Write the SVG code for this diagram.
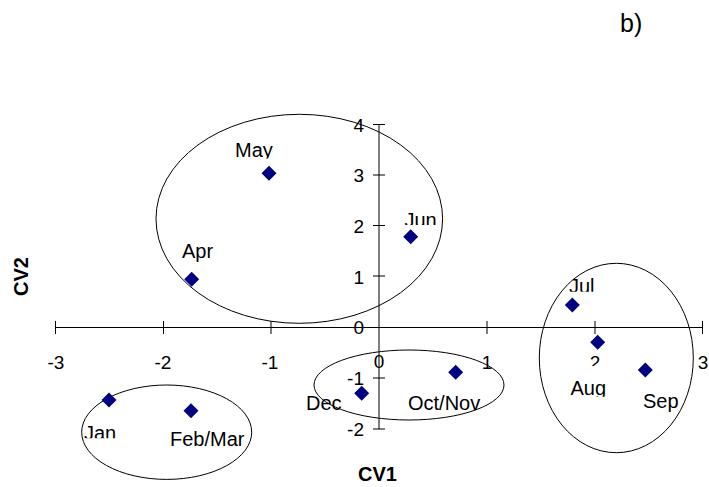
<svg xmlns="http://www.w3.org/2000/svg" width="709" height="487" viewBox="0 0 709 487">
<style>
  .t{font-family:"Liberation Sans",Arial,sans-serif;fill:#000}
  .lab{font-size:20px}
  .tick{font-size:19px}
  .title{font-size:20px;font-weight:bold}
  .ax{stroke:#000;stroke-width:1;fill:none}
  .ell{stroke:#000;stroke-width:1;fill:none}
  .pt{fill:#000080}
</style>
<defs>
  <path id="dia" d="M0,-7.5 L7.5,0 L0,7.5 L-7.5,0 Z"/>
  <clipPath id="cMay"><rect x="0" y="0" width="709" height="158.5"/></clipPath>
  <clipPath id="cJun"><rect x="0" y="0" width="709" height="225"/></clipPath>
  <clipPath id="cJul"><rect x="0" y="0" width="709" height="291.7"/></clipPath>
  <clipPath id="cAug"><rect x="0" y="0" width="709" height="396.7"/></clipPath>
  <clipPath id="cJan"><rect x="0" y="0" width="709" height="438.3"/></clipPath>
  <clipPath id="c2"><rect x="0" y="0" width="709" height="366"/></clipPath>
</defs>
<rect width="709" height="487" fill="#fff"/>

<g id="axes">
  <path class="ax" d="M55,327.5 H703 M55.5,321 V334 M163.5,321 V334 M271,321 V334 M487,321 V334 M595,321 V334 M702.5,321 V334"/>
  <path class="ax" d="M379,124 V429 M373,124.5 H385 M373,175 H385 M373,225.5 H385 M373,276 H385 M373,378 H385 M373,429 H385"/>
  <g class="t tick" text-anchor="end">
    <text x="364" y="131.5">4</text>
    <text x="364" y="182">3</text>
    <text x="364" y="233">2</text>
    <text x="364" y="283.5">1</text>
    <text x="364" y="334">0</text>
    <text x="364" y="385">-1</text>
    <text x="364" y="436">-2</text>
  </g>
  <g class="t tick" text-anchor="middle">
    <text x="56" y="369">-3</text>
    <text x="163" y="369">-2</text>
    <text x="270" y="369">-1</text>
    <text x="379" y="368">0</text>
    <text x="487" y="369">1</text>
    <text x="595" y="369" clip-path="url(#c2)">2</text>
    <text x="703" y="369">3</text>
  </g>
  <text class="t title" text-anchor="middle" x="377.5" y="480.5">CV1</text>
  <text class="t title" text-anchor="middle" transform="translate(27.5,276.5) rotate(-90)">CV2</text>
</g>

<text id="panel" class="t" style="font-size:25px" x="620" y="31.5">b)</text>

<g id="clusters">
  <ellipse id="cl-spring" class="ell" cx="299.3" cy="218.8" rx="143.3" ry="104.5"/>
  <ellipse id="cl-winter" class="ell" cx="166.7" cy="432.2" rx="85" ry="47.2"/>
  <ellipse id="cl-autumn" class="ell" cx="409" cy="385" rx="95" ry="35"/>
  <ellipse id="cl-summer" class="ell" cx="616.3" cy="358" rx="77" ry="94.7"/>
</g>

<g id="connectors"></g>

<g id="May"><use href="#dia" class="pt" x="269" y="173.3"/><text class="t lab" x="235" y="157" clip-path="url(#cMay)">May</text></g>
<g id="Apr"><use href="#dia" class="pt" x="191.7" y="279.3"/><text class="t lab" x="182" y="257.5">Apr</text></g>
<g id="Jun"><use href="#dia" class="pt" x="410.7" y="236.7"/><text class="t lab" x="404.5" y="226.5" clip-path="url(#cJun)">Jun</text></g>
<g id="Jul"><use href="#dia" class="pt" x="572.3" y="305"/><text class="t lab" x="569" y="293" clip-path="url(#cJul)">Jul</text></g>
<g id="Aug"><use href="#dia" class="pt" x="597.7" y="342.3"/><text class="t lab" x="570.5" y="395" clip-path="url(#cAug)">Aug</text></g>
<g id="Sep"><use href="#dia" class="pt" x="645.3" y="370"/><text class="t lab" x="643" y="408.3">Sep</text></g>
<g id="OctNov"><use href="#dia" class="pt" x="455.7" y="372.3"/><text class="t lab" x="408" y="410">Oct/Nov</text></g>
<g id="Dec"><use href="#dia" class="pt" x="361.7" y="393.3"/><text class="t lab" x="306" y="410">Dec</text></g>
<g id="Jan"><use href="#dia" class="pt" x="109" y="400"/><text class="t lab" x="84" y="440" clip-path="url(#cJan)">Jan</text></g>
<g id="FebMar"><use href="#dia" class="pt" x="191" y="410.7"/><text class="t lab" x="170" y="446">Feb/Mar</text></g>
</svg>
